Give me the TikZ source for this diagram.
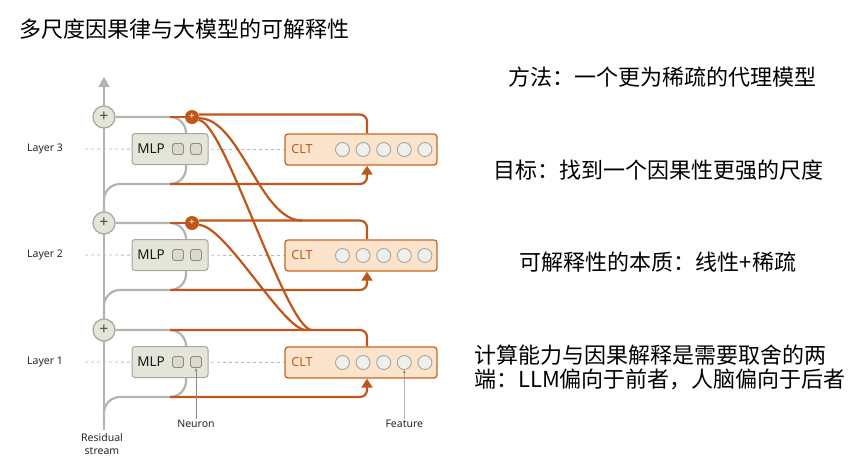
\documentclass[tikz,border=0pt]{standalone}
\usepackage{fontspec}
\setmainfont{Noto Sans}
\newfontfamily\cjk{Noto Sans CJK SC}
\usetikzlibrary{arrows.meta,calc}
\definecolor{og}{HTML}{C0561A}
\definecolor{ofill}{HTML}{FCE4CC}
\definecolor{oborder}{HTML}{C8661F}
\definecolor{gl}{HTML}{B4B4AE}
\definecolor{gfill}{HTML}{E4E4D8}
\definecolor{gborder}{HTML}{A6A69A}
\definecolor{nfill}{HTML}{D9D9CD}
\definecolor{ffill}{HTML}{EFEFEC}
\pgfdeclarelayer{bg}
\pgfsetlayers{bg,main}
\begin{document}
\begin{tikzpicture}[x=1pt,y=-1pt,
  gline/.style={draw=gl, line width=2.2pt},
  oline/.style={draw=og, line width=2.2pt},
  pnode/.style={circle, fill=gfill, draw=gborder, line width=1.2pt, minimum size=22pt, inner sep=0pt, font=\fontsize{16}{16}\selectfont, text=black!70},
  opnode/.style={circle, fill=og, minimum size=14pt, inner sep=0pt, text=white, font=\fontsize{10}{10}\selectfont\bfseries},
  mlpbox/.style={rectangle, rounded corners=3pt, fill=gfill, draw=gborder, line width=1pt, minimum width=76pt, minimum height=31pt, inner sep=0pt},
  nbox/.style={rectangle, rounded corners=2.5pt, fill=nfill, draw=gborder!85!black, line width=0.9pt, minimum size=11pt, inner sep=0pt},
  cltbox/.style={rectangle, rounded corners=3pt, fill=ofill, draw=oborder, line width=1.3pt, minimum width=152pt, minimum height=31pt, inner sep=0pt},
  feat/.style={circle, fill=ffill, draw=gborder, line width=0.9pt, minimum size=14pt, inner sep=0pt},
  lab/.style={font=\fontsize{10.5}{12.5}\selectfont, text=black!85, inner sep=1pt},
  dline/.style={draw=black!28, line width=0.8pt, dash pattern=on 3pt off 3pt},
  ann/.style={draw=black!45, line width=0.6pt, -{Stealth[length=3.5pt,width=3pt]}},
  cjkt/.style={font=\cjk\fontsize{22}{26}\selectfont, inner sep=0pt}
]
\useasboundingbox (0,0) rectangle (864,467);

% residual stream
\coordinate (Rbot) at (104,430);
\coordinate (Rtop) at (104,77);
\begin{pgfonlayer}{bg}
\draw[gline, -{Triangle[width=11pt,length=10pt]}] (Rbot) -- (Rtop);
\end{pgfonlayer}

\foreach \i/\p in {3/117,2/223,1/330}{
  \pgfmathsetmacro{\m}{\p+32}
  \pgfmathsetmacro{\b}{\p+67}
  \node[pnode] (P\i) at (104,\p) {+};
  \node[mlpbox] (MLP\i) at (170,\m) {};
  \node[font=\fontsize{13.5}{14}\selectfont, text=black!90, inner sep=0pt] (MT\i) at (151,\m) {MLP};
  \node[nbox] (N\i a) at (178,\m) {};
  \node[nbox] (N\i b) at (196,\m) {};
  \node[cltbox] (C\i) at (361,\m+0.5) {};
  \node[font=\fontsize{12.5}{14}\selectfont, text=og, inner sep=0pt] (CT\i) at (302,\m+0.5) {CLT};
  \foreach \k in {0,...,4}{
    \node[feat] (F\i-\k) at ({342.5+20.6*\k},\m+0.5) {};
  }
  \node[lab] (L\i) at (45,\m) {Layer \i};
  \coordinate (Rb\i) at (104,\b+28);
  \coordinate (Ga\i) at (186,\b);
  \coordinate (Gb\i) at (170,\b);
  \coordinate (Gt\i) at (170,\p);
  \coordinate (Dl\i) at (85,\m);
  \begin{pgfonlayer}{bg}
    \draw[dline] (Dl\i) -- (C\i.west);
    \draw[gline, rounded corners=16pt] (Rb\i) |- (Ga\i) |- (P\i.east);
    \draw[oline, rounded corners=7pt, -{Triangle[width=11pt,length=9pt]}] (Gb\i) -| ($(C\i.south)+(6,0)$);
  \end{pgfonlayer}
}

% orange sum nodes
\node[opnode] (O3) at (192,117) {+};
\node[opnode] (O2) at (192,223) {+};
\coordinate (J32) at (302,220.6);
\coordinate (J31) at (312,330);
\coordinate (J21) at (306,330);

\begin{pgfonlayer}{bg}
\draw[oline] (Gt3) -- (O3);
\draw[oline] (Gt2) -- (O2);
\draw[oline, rounded corners=7pt] (O3.20) -| ($(C3.north)+(6,0)$);
\draw[oline, rounded corners=7pt] (O2.20) -| ($(C2.north)+(6,0)$);
\draw[oline, rounded corners=7pt] (Gt1) -| ($(C1.north)+(6,0)$);
\draw[oline] (O3.-10) .. controls (240,118) and (260,220.6) .. (J32);
\draw[oline] (O3.-25) .. controls (224,120) and (286,330) .. (J31);
\draw[oline] (O2.-15) .. controls (226,226) and (283,330) .. (J21);
\end{pgfonlayer}

% annotations
\node[lab] (neu) at (196,424) {Neuron};
\draw[ann] (neu.north) -- (N1b.south);
\node[lab] (fea) at (404.3,424) {Feature};
\draw[ann] (fea.north) -- (F1-3.south);
\node[lab, align=center] (rs) at (102,444) {Residual\\stream};

% texts
\node[cjkt, anchor=west] (title) at (19,29) {多尺度因果律与大模型的可解释性};
\node[cjkt] (t1) at (662,77) {方法：一个更为稀疏的代理模型};
\node[cjkt] (t2) at (658,170) {目标：找到一个因果性更强的尺度};
\node[cjkt] (t3) at (658,262) {可解释性的本质：线性+稀疏};
\node[cjkt, anchor=west] (t4) at (474,355) {计算能力与因果解释是需要取舍的两};
\node[cjkt, anchor=west] (t5) at (474,379) {端：LLM偏向于前者，人脑偏向于后者};
\end{tikzpicture}
\end{document}
